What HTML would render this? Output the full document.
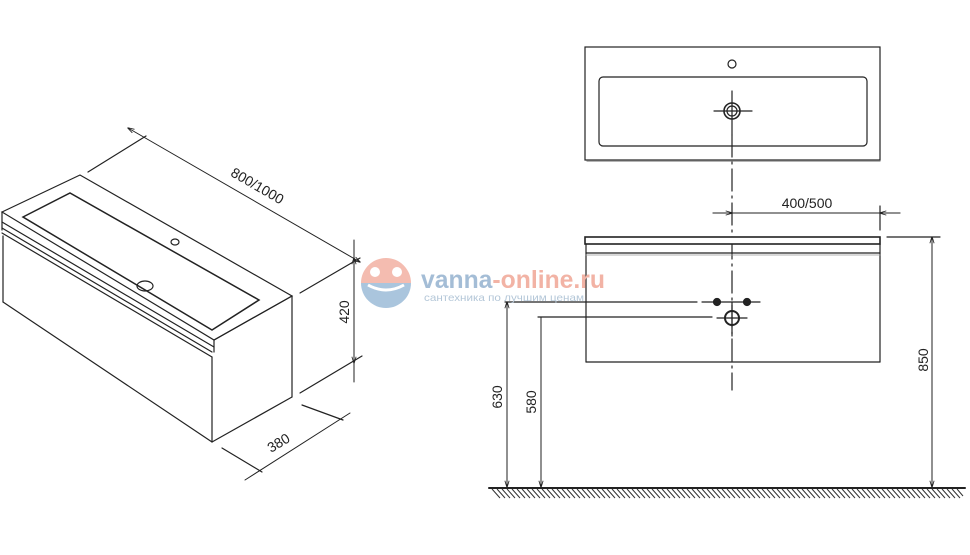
<!DOCTYPE html>
<html><head><meta charset="utf-8"><style>
html,body{margin:0;padding:0;background:#fff;}
svg{display:block;}
text{font-family:"Liberation Sans",Arial,sans-serif;}
</style></head><body>
<svg width="970" height="555" viewBox="0 0 970 555" xmlns="http://www.w3.org/2000/svg">
<defs>
<marker id="t" viewBox="0 0 10 10" refX="9" refY="5" markerWidth="7" markerHeight="7" orient="auto-start-reverse"><path d="M0,2 L10,5 L0,8" fill="none" stroke="#222" stroke-width="1.2"/></marker>
</defs>
<g stroke="#222" stroke-width="1.2" fill="none" stroke-linecap="round">
<!-- Isometric cabinet -->
<polygon points="2,212 80,175 292,296 214,340" fill="#fff"/>
<polygon points="23,217 70,193 259,300 212,330" stroke-width="1.5"/>
<ellipse cx="175" cy="242" rx="4" ry="3"/>
<ellipse cx="145" cy="286" rx="8" ry="5"/>
<line x1="2" y1="212" x2="2" y2="230"/>
<line x1="2" y1="222" x2="214" y2="347"/>
<line x1="2" y1="228" x2="212" y2="352"/>
<line x1="2" y1="233" x2="212" y2="357"/>
<line x1="214" y1="340" x2="214" y2="352"/>
<line x1="214" y1="340" x2="292" y2="296"/>
<line x1="292" y1="296" x2="292" y2="397"/>
<line x1="3" y1="236" x2="3" y2="302"/>
<line x1="3" y1="302" x2="212" y2="442"/>
<line x1="212" y1="357" x2="212" y2="442"/>
<line x1="212" y1="442" x2="292" y2="397"/>
<!-- dims left -->
<line x1="88" y1="172" x2="146" y2="136"/>
<line x1="300" y1="293" x2="360" y2="258"/>
<line x1="128" y1="128" x2="360" y2="262" marker-start="url(#t)" marker-end="url(#t)" stroke-width="1"/>
<line x1="354" y1="240" x2="354" y2="382" stroke-width="1"/>
<line x1="354" y1="258" x2="354" y2="363" marker-start="url(#t)" marker-end="url(#t)" stroke-width="1"/>
<line x1="300" y1="393" x2="362" y2="356"/>
<line x1="222" y1="448" x2="262" y2="472"/>
<line x1="302" y1="405" x2="343" y2="420"/>
<line x1="245" y1="480" x2="350" y2="413" stroke-width="1"/>
<!-- top view -->
<rect x="585" y="47" width="295" height="113" fill="#fff"/>
<line x1="587" y1="161" x2="880" y2="161" stroke="#888"/>
<rect x="599" y="77" width="268" height="69" rx="4"/>
<circle cx="732" cy="64" r="4"/>
<circle cx="732" cy="111" r="8" stroke-width="1.6"/>
<circle cx="732" cy="111" r="5"/>
<line x1="714" y1="111" x2="752" y2="111"/>
<line x1="732" y1="91" x2="732" y2="135"/>
<line x1="732" y1="135" x2="732" y2="390" stroke-dasharray="22,5,2,5"/>
<!-- 400/500 -->
<line x1="713" y1="213" x2="900" y2="213" stroke-width="1"/>
<line x1="713" y1="213" x2="732" y2="213" marker-end="url(#t)" stroke-width="1"/>
<line x1="900" y1="213" x2="880" y2="213" marker-end="url(#t)" stroke-width="1"/>
<line x1="880" y1="206" x2="880" y2="230"/>
<!-- front view -->
<rect x="585" y="237" width="295" height="7" stroke-width="1.6" fill="#fff"/>
<line x1="586" y1="244" x2="586" y2="362"/>
<line x1="880" y1="244" x2="880" y2="362"/>
<line x1="586" y1="362" x2="880" y2="362"/>
<line x1="586" y1="253" x2="880" y2="253"/>
<line x1="586" y1="255" x2="880" y2="255" stroke="#999" stroke-width="0.8"/>
<circle cx="717" cy="302" r="3.5" fill="#222"/>
<circle cx="747" cy="302" r="3.5" fill="#222"/>
<circle cx="732" cy="318" r="7" stroke-width="2"/>
<line x1="717" y1="318" x2="747" y2="318"/>
<line x1="732" y1="302" x2="732" y2="336"/>
<line x1="702" y1="302" x2="760" y2="302"/>
<!-- height dims -->
<line x1="505" y1="302" x2="697" y2="302"/>
<line x1="538" y1="317" x2="712" y2="317"/>
<line x1="887" y1="237" x2="940" y2="237"/>
<line x1="507" y1="302" x2="507" y2="487" marker-start="url(#t)" marker-end="url(#t)" stroke-width="1"/>
<line x1="541" y1="317" x2="541" y2="487" marker-end="url(#t)" stroke-width="1"/>
<line x1="932" y1="237" x2="932" y2="487" marker-start="url(#t)" marker-end="url(#t)" stroke-width="1"/>
<!-- floor -->
<line x1="489" y1="488" x2="965" y2="488" stroke-width="2"/>
</g>
<g stroke="#333" stroke-width="1">
<path d="M492,489 l8,9 M497,489 l8,9 M502,489 l8,9 M507,489 l8,9 M512,489 l8,9 M517,489 l8,9 M522,489 l8,9 M527,489 l8,9 M532,489 l8,9 M537,489 l8,9 M542,489 l8,9 M547,489 l8,9 M552,489 l8,9 M557,489 l8,9 M562,489 l8,9 M567,489 l8,9 M572,489 l8,9 M577,489 l8,9 M582,489 l8,9 M587,489 l8,9 M592,489 l8,9 M597,489 l8,9 M602,489 l8,9 M607,489 l8,9 M612,489 l8,9 M617,489 l8,9 M622,489 l8,9 M627,489 l8,9 M632,489 l8,9 M637,489 l8,9 M642,489 l8,9 M647,489 l8,9 M652,489 l8,9 M657,489 l8,9 M662,489 l8,9 M667,489 l8,9 M672,489 l8,9 M677,489 l8,9 M682,489 l8,9 M687,489 l8,9 M692,489 l8,9 M697,489 l8,9 M702,489 l8,9 M707,489 l8,9 M712,489 l8,9 M717,489 l8,9 M722,489 l8,9 M727,489 l8,9 M732,489 l8,9 M737,489 l8,9 M742,489 l8,9 M747,489 l8,9 M752,489 l8,9 M757,489 l8,9 M762,489 l8,9 M767,489 l8,9 M772,489 l8,9 M777,489 l8,9 M782,489 l8,9 M787,489 l8,9 M792,489 l8,9 M797,489 l8,9 M802,489 l8,9 M807,489 l8,9 M812,489 l8,9 M817,489 l8,9 M822,489 l8,9 M827,489 l8,9 M832,489 l8,9 M837,489 l8,9 M842,489 l8,9 M847,489 l8,9 M852,489 l8,9 M857,489 l8,9 M862,489 l8,9 M867,489 l8,9 M872,489 l8,9 M877,489 l8,9 M882,489 l8,9 M887,489 l8,9 M892,489 l8,9 M897,489 l8,9 M902,489 l8,9 M907,489 l8,9 M912,489 l8,9 M917,489 l8,9 M922,489 l8,9 M927,489 l8,9 M932,489 l8,9 M937,489 l8,9 M942,489 l8,9 M947,489 l8,9 M952,489 l8,9 M957,489 l6,7"/>
</g>
<!-- watermark -->
<path d="M361,283 A25,25 0 0 1 411,283 Z" fill="#f4bcb0"/>
<path d="M361,283 A25,25 0 0 0 411,283 Z" fill="#aac5dd"/>
<path d="M368,285 q18,10 36,0" stroke="#fff" stroke-width="3" fill="none"/>
<circle cx="375" cy="272" r="5" fill="#fff"/><circle cx="397" cy="272" r="5" fill="#fff"/>
<text x="421" y="288" font-size="25" font-weight="bold" textLength="184" lengthAdjust="spacingAndGlyphs"><tspan fill="#a4bdd6">vanna</tspan><tspan fill="#f2b3a5">-online.ru</tspan></text>
<text x="424" y="301" font-size="10.5" fill="#b4c7d8" textLength="160" lengthAdjust="spacingAndGlyphs">сантехника по лучшим ценам</text>
<!-- labels -->
<g fill="#222" font-size="14">
<text transform="translate(255,190) rotate(30)" text-anchor="middle">800/1000</text>
<text transform="translate(349,312) rotate(-90)" text-anchor="middle">420</text>
<text transform="translate(281,447) rotate(-31)" text-anchor="middle">380</text>
<text x="807" y="208" text-anchor="middle">400/500</text>
<text transform="translate(502,397) rotate(-90)" text-anchor="middle">630</text>
<text transform="translate(536,402) rotate(-90)" text-anchor="middle">580</text>
<text transform="translate(928,360) rotate(-90)" text-anchor="middle">850</text>
</g>
</svg>
</body></html>
